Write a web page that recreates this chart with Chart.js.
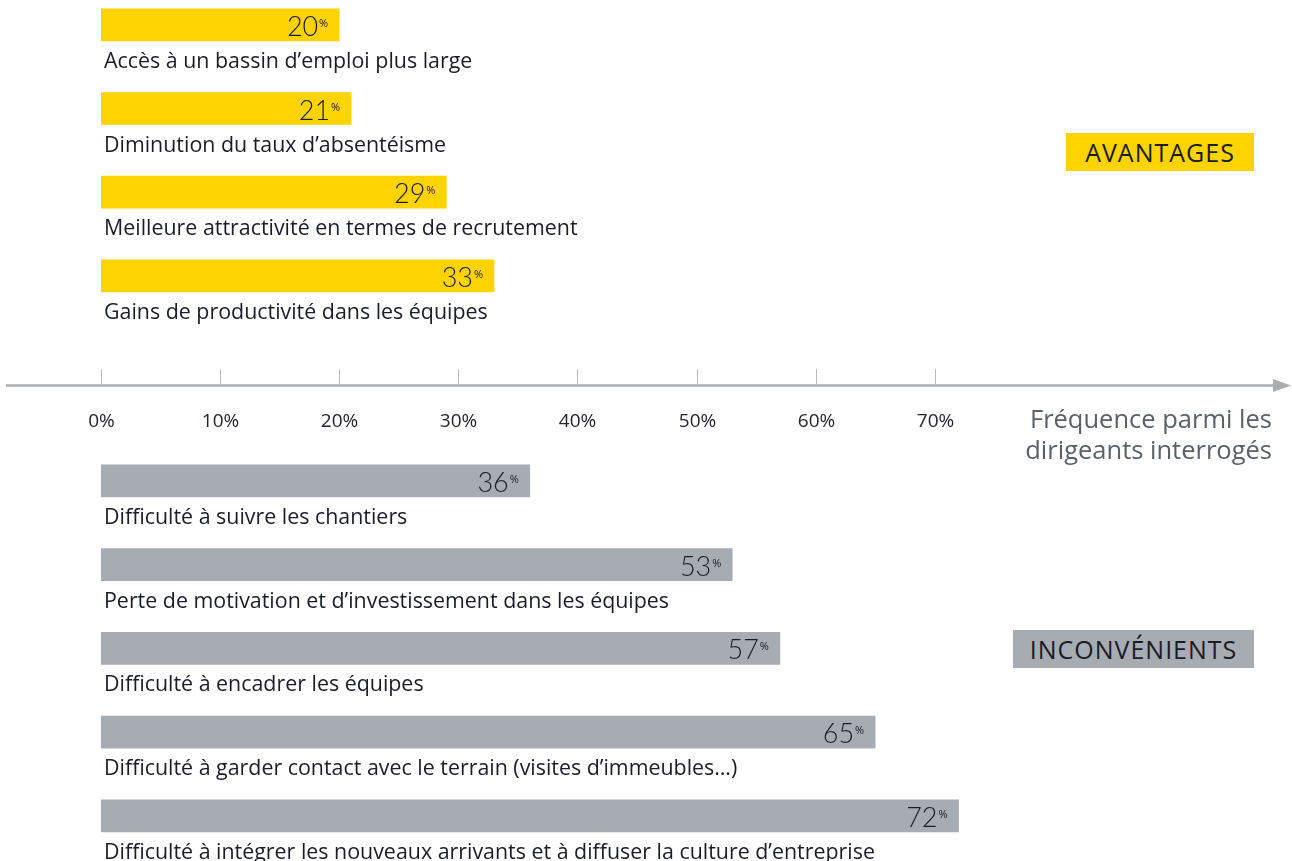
<!DOCTYPE html>
<html><head><meta charset="utf-8">
<script src="https://cdn.jsdelivr.net/npm/chart.js@4.4.0/dist/chart.umd.min.js"></script>
<style>
html,body{margin:0;padding:0;background:#fff;width:1292px;height:861px;overflow:hidden;position:relative;font-family:"Open Sans",Lato,sans-serif;}
#wa{position:absolute;left:0;top:-17px;width:1292px;height:480px;}
#wb{position:absolute;left:0;top:439px;width:1292px;height:422px;}
.tag{position:absolute;height:38px;line-height:38px;text-align:center;font-size:25px;font-weight:500;color:#1a1c28;letter-spacing:1px;}
#tagA{left:1066px;top:133px;width:188px;background:#FFD300;}
#tagB{left:1013px;top:630px;width:241px;background:#A7ACB2;}
#atitle{position:absolute;right:20px;top:403px;text-align:right;font-size:25.5px;line-height:31px;color:#5b6168;}
</style></head>
<body>
<div id="wa"><canvas id="ca"></canvas></div>
<div id="wb"><canvas id="cb"></canvas></div>
<div class="tag" id="tagA">AVANTAGES</div>
<div class="tag" id="tagB">INCONVÉNIENTS</div>
<div id="atitle">Fréquence parmi les<br>dirigeants interrogés</div>
<script>
const advLabels = ["Accès à un bassin d’emploi plus large", "Diminution du taux d’absentéisme", "Meilleure attractivité en termes de recrutement", "Gains de productivité dans les équipes"];
const advValues = [20, 21, 29, 33];
const incLabels = ["Difficulté à suivre les chantiers", "Perte de motivation et d’investissement dans les équipes", "Difficulté à encadrer les équipes", "Difficulté à garder contact avec le terrain (visites d’immeubles…)", "Difficulté à intégrer les nouveaux arrivants et à diffuser la culture d’entreprise"];
const incValues = [36, 53, 57, 65, 72];
const tickValues = [0, 10, 20, 30, 40, 50, 60, 70];

const TEXT = '#1a1c28';
const FONT = '"Open Sans", Lato, sans-serif';
const NUMFONT = 'Lato, "Open Sans", sans-serif';

const barLabels = {
  id: 'barLabels',
  afterDatasetsDraw(chart) {
    const ctx = chart.ctx;
    const meta = chart.getDatasetMeta(0);
    const x0 = chart.scales.x.getPixelForValue(0);
    ctx.save();
    meta.data.forEach((bar, i) => {
      const top = bar.y - bar.height / 2;
      const bottom = bar.y + bar.height / 2;
      const end = bar.x;
      ctx.fillStyle = TEXT;
      ctx.textBaseline = 'alphabetic';
      ctx.textAlign = 'left';
      ctx.font = '21.4px ' + FONT;
      ctx.fillText(chart.data.labels[i], x0 + 3, bottom + 27);
      ctx.textAlign = 'right';
      ctx.font = '300 27px ' + NUMFONT;
      ctx.fillText(String(chart.data.datasets[0].data[i]), end - 21, top + 27);
      ctx.font = '11px ' + FONT;
      ctx.fillText('%', end - 11, top + 18);
    });
    ctx.restore();
  }
};

const axisPlugin = {
  id: 'midAxis',
  afterDraw(chart) {
    const ctx = chart.ctx;
    const xs = chart.scales.x;
    const off = 17; // canvas offset vs page
    const yLine = 385.5 + off;
    ctx.save();
    ctx.strokeStyle = '#A9AEB3';
    ctx.lineWidth = 2.5;
    ctx.beginPath();
    ctx.moveTo(6, yLine);
    ctx.lineTo(1276, yLine);
    ctx.stroke();
    ctx.fillStyle = '#A9AEB3';
    ctx.beginPath();
    ctx.moveTo(1273, yLine - 6.5);
    ctx.lineTo(1291, yLine);
    ctx.lineTo(1273, yLine + 6.5);
    ctx.closePath();
    ctx.fill();
    ctx.strokeStyle = '#B8BCC1';
    ctx.lineWidth = 1;
    ctx.fillStyle = '#222430';
    ctx.font = '19px ' + FONT;
    ctx.textAlign = 'center';
    ctx.textBaseline = 'middle';
    tickValues.forEach(v => {
      const px = Math.round(xs.getPixelForValue(v)) + 0.5;
      ctx.beginPath();
      ctx.moveTo(px, 369 + off);
      ctx.lineTo(px, yLine);
      ctx.stroke();
      ctx.fillText(v + '%', px, 422 + off);
    });
    ctx.restore();
  }
};

function makeChart(id, labels, values, color, padBottom, extraPlugins) {
  return new Chart(document.getElementById(id), {
    type: 'bar',
    data: { labels: labels, datasets: [{ data: values, backgroundColor: color, barThickness: 32, borderWidth: 0 }] },
    options: {
      indexAxis: 'y',
      responsive: true,
      maintainAspectRatio: false,
      animation: false,
      layout: { padding: { left: 101, right: 0, top: 0, bottom: padBottom } },
      plugins: { legend: { display: false }, tooltip: { enabled: false } },
      scales: {
        x: { type: 'linear', min: 0, max: 100, display: false },
        y: { display: false }
      }
    },
    plugins: [barLabels].concat(extraPlugins)
  });
}

makeChart('ca', advLabels, advValues, '#FFD300', 480 - 334.7, [axisPlugin]);
makeChart('cb', incLabels, incValues, '#A7ACB2', 422 - 418.75, []);
</script>
</body></html>
